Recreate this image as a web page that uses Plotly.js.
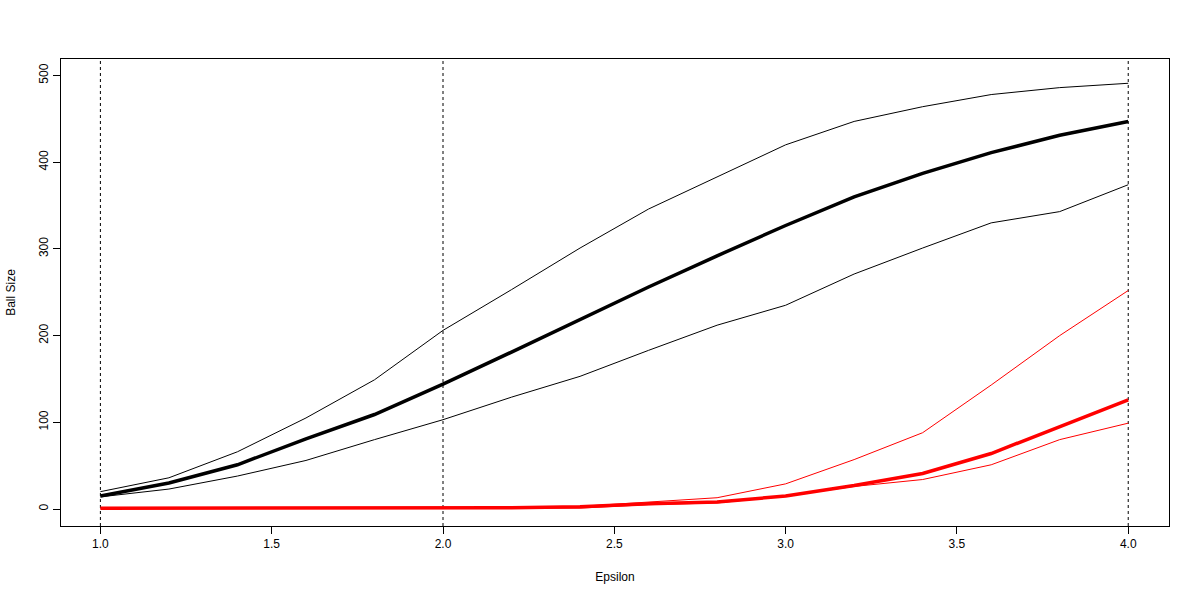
<!DOCTYPE html>
<html>
<head>
<meta charset="utf-8">
<script src="https://cdn.plot.ly/plotly-3.0.1.min.js"></script>
<style>html,body{margin:0;padding:0;background:#fff}#chart{width:1200px;height:600px}</style>
</head>
<body>
<div id="chart"></div>
<script>
const epsilon = [1.0,1.2,1.4,1.6,1.8,2.0,2.2,2.4,2.6,2.8,3.0,3.2,3.4,3.6,3.8,4.0];
const blackUpper = [20,36,66,105,149,206,253,301,346,383,420,447,464,478,486,491];
const blackMean  = [15,30,51,81,109,144,181,219,256,292,327,360,387,411,431,447];
const blackLower = [14,23,38,56,80,103,129,153,183,212,235,271,301,330,343,374];
const redUpper   = [1,1,1,1,1,1,1,3,8,13,29,57,88,143,200,252];
const redMean    = [1,1,1,1,1,1,1.5,2.5,6,8,15,27,41,64,95,126];
const redLower   = [1,1,1,1,1,1,1,1,5,7,15,26,34,51,80,99];
const vlines = [1,2,4];
const xTicks = [1.0,1.5,2.0,2.5,3.0,3.5,4.0];
const xTickText = ["1.0","1.5","2.0","2.5","3.0","3.5","4.0"];
const yTicks = [0,100,200,300,400,500];

function tr(y, color, width){
  return {x: epsilon, y: y, type:'scatter', mode:'lines', line:{color:color, width:width}, hoverinfo:'skip'};
}
const data = [
  tr(blackUpper,'#000',1), tr(blackLower,'#000',1), tr(blackMean,'#000',3.5),
  tr(redUpper,'#ff0000',1), tr(redLower,'#ff0000',1), tr(redMean,'#ff0000',3.5)
];
const shapes = vlines.map(v => ({type:'line', xref:'x', yref:'paper', x0:v, x1:v, y0:0, y1:1,
  line:{color:'#000', width:1, dash:'dot'}, layer:'below'}));

const layout = {
  width:1200, height:600,
  margin:{l:61, r:31, t:59, b:74},
  paper_bgcolor:'#fff', plot_bgcolor:'#fff',
  showlegend:false,
  font:{family:'Liberation Sans, Arial, sans-serif', size:12, color:'#000'},
  shapes: shapes,
  xaxis:{range:[0.885,4.119], tickvals:xTicks, ticktext:xTickText, ticks:'outside', ticklen:7,
    tickcolor:'#000', showgrid:false, zeroline:false, showline:true, mirror:true, linecolor:'#000', linewidth:1,
    tickfont:{size:12}, title:{text:'Epsilon', font:{size:12}, standoff:22}},
  yaxis:{range:[-19.6,519], tickvals:yTicks, ticks:'outside', ticklen:7, tickangle:-90,
    tickcolor:'#000', showgrid:false, zeroline:false, showline:true, mirror:true, linecolor:'#000', linewidth:1,
    tickfont:{size:12}, title:{text:'Ball Size', font:{size:12}, standoff:19}}
};
Plotly.newPlot('chart', data, layout, {staticPlot:true});
</script>
</body>
</html>
